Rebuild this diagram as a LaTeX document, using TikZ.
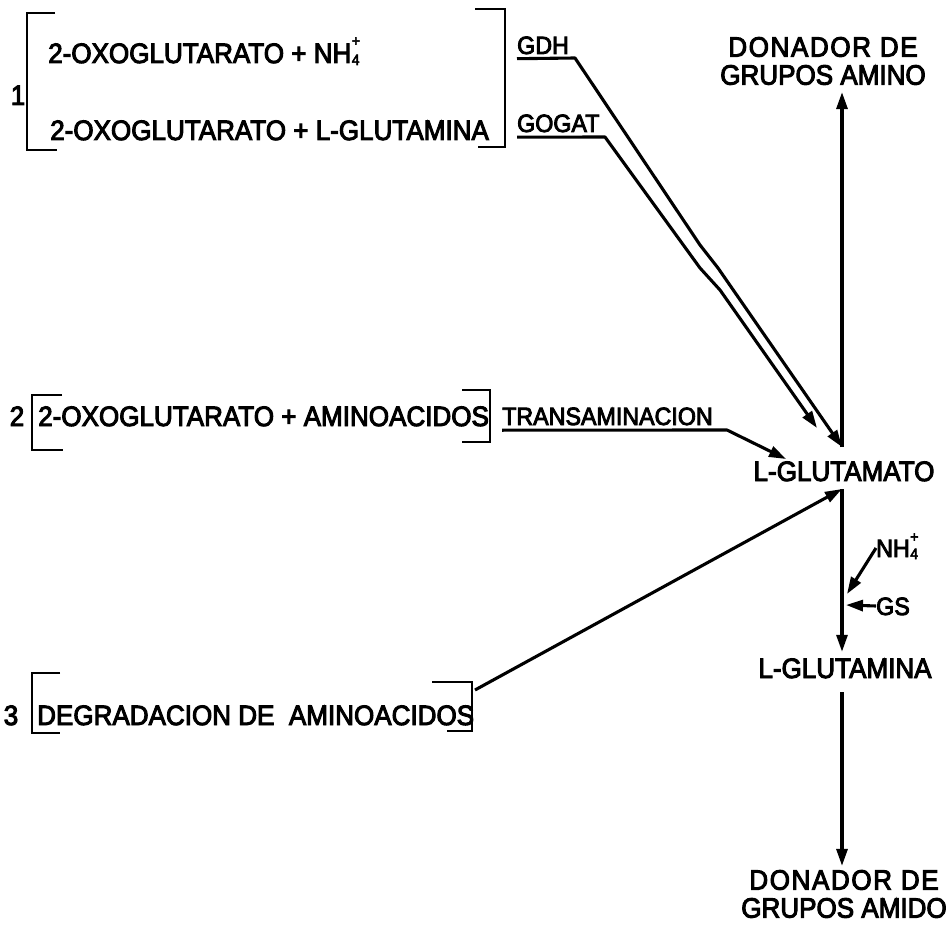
\documentclass[tikz,border=0pt]{standalone}
\usepackage{fontspec}
\setmainfont{Liberation Sans}[FakeBold=3.5,FakeStretch=0.93]
\usetikzlibrary{arrows.meta,calc}
\newcommand{\nhq}[1]{NH\kern0.5pt\makebox[0pt][l]{\raisebox{#1}{\fontsize{15}{15}\selectfont +}}\raisebox{-2pt}{\fontsize{15}{15}\selectfont 4}}
\newcommand{\spc}{\kern1.6pt}
\begin{document}
\begin{tikzpicture}[x=1pt,y=-1pt,
  big/.style={inner sep=0pt, font=\fontsize{28}{28}\selectfont, text height=20pt, text depth=0pt},
  sml/.style={inner sep=0pt, font=\fontsize{25}{26}\selectfont, text height=18pt, text depth=0pt},
  two/.style={inner sep=0pt, font=\fontsize{28}{28}\selectfont, align=center},
  brk/.style={line width=2.8pt, line join=miter},
  arr/.style={line width=3.1pt, line join=round, -{Triangle[length=17pt,width=11pt]}},
]
\useasboundingbox (0,0) rectangle (951,936);

% ---- group 1
\node[big] (one) at (18,95) {1};
\draw[brk] (55,13) -- (27,13) -- (27,150) -- (57,150);
\draw[brk] (475,9) -- (505,9) -- (505,147) -- (478,147);
\node[big,anchor=west] (r1a) at (48,53) {2-OXOGLUTARATO + \nhq{17pt}};
\node[big,anchor=west] (r1b) at (50,130) {2-OXOGLUTARATO + L-GLUTAMINA};
\node[sml,anchor=west] (gdh) at (517,45) {GDH};
\node[sml,anchor=west] (gogat) at (517,123) {GOGAT};

% ---- group 2
\node[big] (two) at (17,416) {2};
\draw[brk] (62,395) -- (32,395) -- (32,450) -- (63,450);
\draw[brk] (462,390) -- (490,390) -- (490,442) -- (462,442);
\node[big,anchor=west] (r2) at (38,416) {2-OXOGLUTARATO + AMINOACIDOS};
\node[sml,anchor=west] (trans) at (502,416) {TRANSAMINACION};

% ---- group 3
\node[big] (three) at (11,715) {3};
\draw[brk] (60,673) -- (32,673) -- (32,733) -- (60,733);
\draw[brk] (432,682) -- (472,682) -- (472,731) -- (447,731);
\node[big,anchor=west] (r3) at (37,715) {DEGRADACION DE \ AMINOACIDOS};
\coordinate (r3out) at (475,690);

% ---- right column
\node[two] (amino) at (823,61) {D\spc O\spc N\spc A\spc D\spc O\spc R\spc\ D\spc E\\GRUPOS AMINO};
\node[big] (glu) at (844,471) {L-GLUTAMATO};
\node[big] (glm) at (845,668) {L-GLUTAMINA};
\node[two] (amido) at (844,894) {D\spc O\spc N\spc A\spc D\spc O\spc R\spc\ D\spc E\\GRUPOS AMIDO};
\node[sml,anchor=west] (nh) at (876,548) {\nhq{15pt}};
\node[sml,anchor=west] (gs) at (876,606) {GS};

\coordinate (hub) at (842,447);
\coordinate (hubb) at (842,489);
\coordinate (gogtip) at (817,428);
\coordinate (trtip) at (786,459);
\coordinate (j1) at (847,594);
\coordinate (j2) at (846,605);

% connectors
\draw[arr] ([yshift=-4.5pt]gdh.south west) -- (575,58) -- (700,245) -- (718,268) -- (hub);
\draw[arr] ([yshift=-5pt]gogat.south west) -- (605,137) -- (700,268) -- (720,290) -- (gogtip);
\draw[arr] ([yshift=-5pt]trans.south west) -- (727,430) -- (trtip);
\draw[arr] (r3out) -- (hubb);
\draw[arr, shorten >=7pt] (hub) -- (hub |- amino.south);
\draw[arr, shorten >=6pt] (hubb) -- (hubb |- glm.north);
\draw[arr] (nh.west) -- (j1);
\draw[arr] (gs.west) -- (j2);
\draw[arr, shorten <=14pt, shorten >=4pt] (hub |- glm.south) -- (hub |- amido.north);
\end{tikzpicture}
\end{document}
